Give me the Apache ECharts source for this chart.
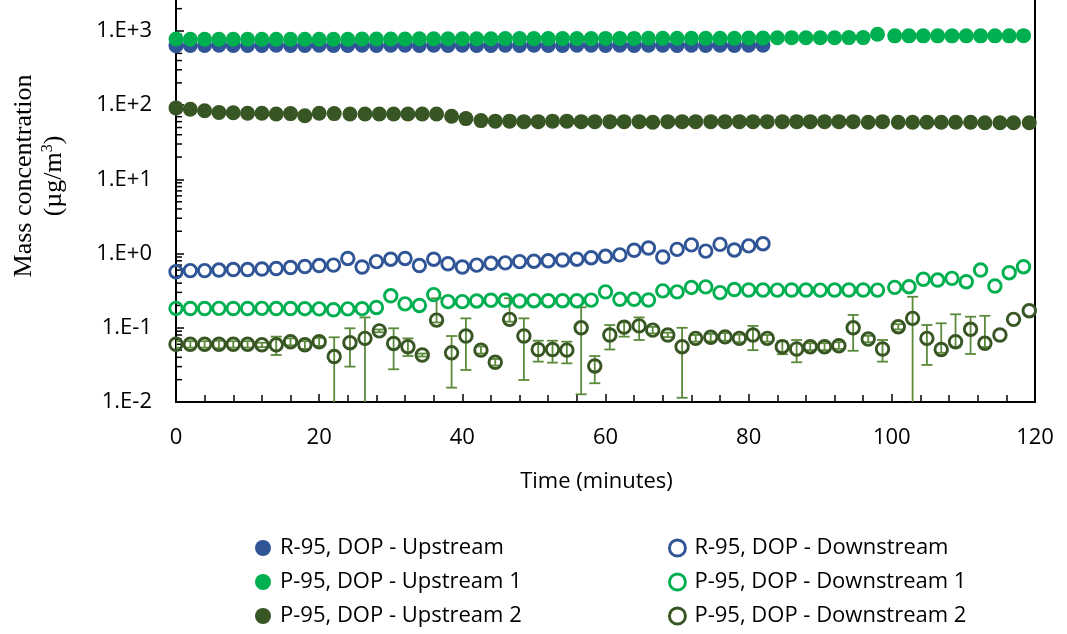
<!DOCTYPE html>
<html>
<head>
<meta charset="utf-8">
<script src="https://cdn.jsdelivr.net/npm/echarts@6/dist/echarts.min.js"></script>
<style>
  html, body { margin: 0; padding: 0; background: #fff; }
  #chart { width: 1067px; height: 634px; }
</style>
</head>
<body>
<div id="chart"></div>
<script>
// Sampling times (minutes)
const timeR = [0,2,4,6,8,10,12,14,16,18,20,22,24,26,28,30,32,34,36,38,40,42,44,46,48,50,52,54,56,58,60,62,64,66,68,70,72,74,76,78,80,82];
const timeP1 = [0,2,4,6,8,10,12,14,16,18,20,22,24,26,28,30,32,34,36,38,40,42,44,46,48,50,52,54,56,58,60,62,64,66,68,70,72,74,76,78,80,82,84,86,88,90,92,94,96,98,
  100.4,102.4,104.4,106.4,108.4,110.4,112.4,114.4,116.4,118.4];
const timeP2 = [0,2,4,6,8,10,12,14,16,18,20,22.1,24.3,26.4,28.4,30.4,32.4,34.4,36.4,38.5,40.5,42.6,44.6,46.6,48.6,50.6,52.6,54.6,56.6,58.5,
  60.6,62.6,64.7,66.6,68.7,70.7,72.6,74.7,76.7,78.7,80.6,82.6,84.7,86.7,88.6,90.6,92.6,94.6,96.7,98.7,
  100.9,102.9,104.9,106.9,108.9,111.0,113.0,115.1,117.0,119.2];

// Mass concentration (µg/m³)
const r95Up = [635,640,640,645,640,640,640,645,640,640,645,640,640,645,640,645,645,640,645,640,645,640,640,645,640,645,640,640,645,645,640,645,640,645,645,640,645,640,645,640,645,645];
const r95Down = [0.57,0.59,0.59,0.60,0.61,0.61,0.62,0.63,0.65,0.67,0.69,0.70,0.86,0.66,0.78,0.84,0.86,0.69,0.84,0.73,
  0.66,0.70,0.74,0.75,0.78,0.79,0.80,0.82,0.84,0.88,0.92,0.96,1.11,1.19,0.90,1.14,1.31,1.08,1.33,1.12,1.27,1.36];
const p95Up1 = [780,775,775,775,775,775,775,775,775,775,775,775,775,780,780,
  780,780,785,785,785,785,785,785,790,790,790,790,790,790,790,
  795,795,795,800,800,800,800,800,800,800,805,805,
  810,810,810,810,810,815,815,905,
  860,860,860,860,860,860,860,860,860,865];
const p95Down1 = [0.183,0.182,0.182,0.183,0.182,0.182,0.183,0.182,0.182,0.181,0.180,
  0.175,0.180,0.181,0.188,0.270,0.210,0.200,0.280,0.225,0.225,0.230,0.235,0.235,0.230,0.232,0.232,0.232,0.232,0.236,
  0.305,0.242,0.242,0.237,0.315,0.305,0.350,0.356,0.298,0.328,
  0.323,0.323,0.322,0.323,0.323,0.322,0.323,0.323,0.323,0.322,
  0.351,0.358,0.451,0.440,0.464,0.418,0.600,0.366,0.553,0.666];
const p95Up2 = [92,88,84,80,79,78,78,76,77,72,78,77,76,76,76,76,76,76,76,71,
  66,62,61,61,60,60,61,61,60,60,60,60,60,59,60,60,60,60,60,60,
  60,60,60,60,60,60,60,60,59,60,59,59,59,59,59,59,58,58,58,58];
const p95Down2 = [0.060,0.060,0.060,0.060,0.060,0.060,0.059,0.059,0.065,0.059,
  0.065,0.041,0.063,0.072,0.091,0.0615,0.0556,0.043,0.127,0.046,
  0.0775,0.050,0.0343,0.130,0.0775,0.051,0.051,0.050,0.100,0.0306,
  0.080,0.102,0.106,0.093,0.080,0.0556,0.072,0.0745,0.0755,0.072,
  0.080,0.072,0.0556,0.0518,0.0556,0.0556,0.0574,0.100,0.0706,0.0518,
  0.1035,0.134,0.072,0.051,0.065,0.0955,0.0618,0.080,0.130,0.170];
// Error bar limits for Downstream 2
const p95Down2Low = [0.054,0.054,0.054,0.053,0.054,0.054,0.055,0.043,0.058,0.052,
  0.057,0.005,0.030,0.005,0.087,0.0276,0.0417,0.041,0.118,0.0156,
  0.027,0.045,0.031,0.121,0.0198,0.035,0.0339,0.0332,0.0127,0.0179,
  0.051,0.076,0.0685,0.084,0.075,0.0114,0.065,0.066,0.067,0.064,
  0.050,0.065,0.044,0.0343,0.050,0.050,0.052,0.049,0.064,0.035,
  0.095,0.005,0.0316,0.046,0.055,0.0444,0.055,0.080,0.130,0.170];
const p95Down2High = [0.066,0.066,0.066,0.067,0.066,0.066,0.063,0.076,0.072,0.066,
  0.073,0.0745,0.0985,0.138,0.095,0.0985,0.072,0.045,0.250,0.0775,
  0.134,0.056,0.038,0.250,0.134,0.067,0.067,0.065,0.189,0.0417,
  0.109,0.118,0.138,0.103,0.086,0.100,0.080,0.083,0.085,0.081,
  0.106,0.080,0.066,0.0685,0.062,0.062,0.064,0.149,0.078,0.0685,
  0.112,0.262,0.109,0.115,0.152,0.141,0.145,0.080,0.130,0.170];

const seriesNames = [
  'R-95, DOP - Upstream', 'R-95, DOP - Downstream',
  'P-95, DOP - Upstream 1', 'P-95, DOP - Downstream 1',
  'P-95, DOP - Upstream 2', 'P-95, DOP - Downstream 2'
];
const xTicks = [0, 20, 40, 60, 80, 100, 120];

const BLUE = '#2F5597', GREEN = '#00B050', OLIVE = '#375623', BAR = '#5B8A3A';
const SANS = '"Open Sans", "Liberation Sans", sans-serif';
const SERIF = '"Liberation Serif", "DejaVu Serif", serif';

const Y_MIN = 0.01;
const Y_MAX = Math.pow(10, 402 / 74.2 - 2);

// log-axis minor tick positions (2..9 within each decade)
const minorTickValues = [];
for (let d = -2; d <= 3; d++) {
  for (let m = 2; m <= 9; m++) {
    const v = m * Math.pow(10, d);
    if (v < Y_MAX) minorTickValues.push([0, v]);
  }
}

const pairs = (t, v) => t.map((x, i) => [x, v[i]]);

function filled(name, t, v, color) {
  return {
    name, type: 'scatter', data: pairs(t, v), symbol: 'circle', symbolSize: 15,
    itemStyle: { color, opacity: 1 }, silent: true
  };
}
function hollow(name, t, v, color) {
  return {
    name, type: 'scatter', data: pairs(t, v), symbol: 'circle', symbolSize: 12.5,
    itemStyle: { color: 'rgba(255,255,255,0)', borderColor: color, borderWidth: 2.9, opacity: 1 }, silent: true
  };
}

// one legend entry per slot: two columns, three rows
const legendSlots = [
  { name: seriesNames[0], left: 250, top: 532, hollow: false },
  { name: seriesNames[1], left: 663, top: 532, hollow: true },
  { name: seriesNames[2], left: 250, top: 566, hollow: false },
  { name: seriesNames[3], left: 663, top: 566, hollow: true },
  { name: seriesNames[4], left: 250, top: 600, hollow: false },
  { name: seriesNames[5], left: 663, top: 600, hollow: true }
];

const errorData = timeP2.map((t, i) => [t, p95Down2Low[i], p95Down2High[i]]);

const chart = echarts.init(document.getElementById('chart'), null, { renderer: 'canvas' });
chart.setOption({
  animation: false,
  backgroundColor: '#fff',
  grid: { left: 176, right: 32, top: 0, bottom: 232, containLabel: false },
  xAxis: {
    type: 'value', min: 0, max: 120, interval: 20,
    axisLine: { show: true, onZero: false, lineStyle: { color: '#000', width: 2 } },
    axisTick: { show: true, inside: true, length: 8, lineStyle: { color: '#000', width: 1.5 } },
    minorTick: { show: true, splitNumber: 5, length: 7, lineStyle: { color: '#000', width: 1.5 } },
    splitLine: { show: false },
    axisLabel: {
      margin: 25, fontSize: 22, fontFamily: SANS, color: '#000',
      formatter: v => (xTicks.indexOf(v) >= 0 ? String(v) : '')
    },
    name: 'Time (minutes)', nameLocation: 'middle', nameGap: 69,
    nameTextStyle: { fontSize: 22, fontFamily: SANS, color: '#000', padding: [0, 18, 0, 0] }
  },
  yAxis: [{
    type: 'log', logBase: 10, min: Y_MIN, max: Y_MAX,
    axisLine: { show: true, lineStyle: { color: '#000', width: 2 } },
    axisTick: { show: true, inside: true, length: 8, lineStyle: { color: '#000', width: 1.5 } },
    splitLine: { show: false },
    axisLabel: {
      margin: 24, fontSize: 22, fontFamily: SANS, color: '#000', showMaxLabel: false,
      formatter: v => {
        const l = Math.log10(v), e = Math.round(l);
        if (Math.abs(l - e) > 1e-6) return '';
        return '1.E' + (e >= 0 ? '+' : '-') + Math.abs(e);
      }
    }
  }, {
    type: 'log', logBase: 10, min: Y_MIN, max: Y_MAX, position: 'right',
    axisLine: { show: true, lineStyle: { color: '#000', width: 2 } },
    axisTick: { show: false }, axisLabel: { show: false }, splitLine: { show: false }
  }],
  legend: legendSlots.map(s => ({
    data: [s.hollow ? { name: s.name, itemStyle: { borderWidth: 2.9 } } : s.name],
    orient: 'horizontal', left: s.left, top: s.top,
    itemWidth: 24, itemHeight: 16, selectedMode: false,
    textStyle: { fontSize: 22, fontFamily: SANS, color: '#000' }
  })),
  graphic: [{
    type: 'text', x: 24, y: 176, rotation: Math.PI / 2,
    style: { text: 'Mass concentration', font: '26px ' + SERIF, fill: '#000', align: 'center', verticalAlign: 'middle' }
  }, {
    type: 'text', x: 54, y: 176, rotation: Math.PI / 2,
    style: {
      text: '(µg/m{sup|3})', font: '26px ' + SERIF, fill: '#000', align: 'center', verticalAlign: 'middle',
      rich: { sup: { fontSize: 16, fontFamily: SERIF, fill: '#000', verticalAlign: 'top', padding: [0, 0, 12, 0] } }
    }
  }],
  series: [
    {
      type: 'custom', silent: true, clip: true, z: 1,
      data: minorTickValues,
      encode: { x: 0, y: 1 },
      renderItem: (params, api) => {
        const p = api.coord([0, api.value(1)]);
        return { type: 'line', shape: { x1: p[0], y1: p[1], x2: p[0] + 6, y2: p[1] },
          style: { stroke: '#000', lineWidth: 1.5 } };
      }
    },
    {
      type: 'custom', silent: true, clip: true, z: 1,
      data: errorData,
      encode: { x: 0, y: [1, 2] },
      renderItem: (params, api) => {
        const t = api.value(0), lo = api.value(1), hi = api.value(2);
        if (!(hi > lo)) return null;
        const a = api.coord([t, hi]), b = api.coord([t, lo]);
        const w = 5.5, st = { stroke: BAR, lineWidth: 1.8 };
        return { type: 'group', children: [
          { type: 'line', shape: { x1: a[0], y1: a[1], x2: b[0], y2: b[1] }, style: st },
          { type: 'line', shape: { x1: a[0] - w, y1: a[1], x2: a[0] + w, y2: a[1] }, style: st },
          { type: 'line', shape: { x1: b[0] - w, y1: b[1], x2: b[0] + w, y2: b[1] }, style: st }
        ] };
      }
    },
    filled(seriesNames[0], timeR, r95Up, BLUE),
    hollow(seriesNames[1], timeR, r95Down, BLUE),
    filled(seriesNames[2], timeP1, p95Up1, GREEN),
    hollow(seriesNames[3], timeP1, p95Down1, GREEN),
    filled(seriesNames[4], timeP2, p95Up2, OLIVE),
    hollow(seriesNames[5], timeP2, p95Down2, OLIVE)
  ]
});
</script>
</body>
</html>
